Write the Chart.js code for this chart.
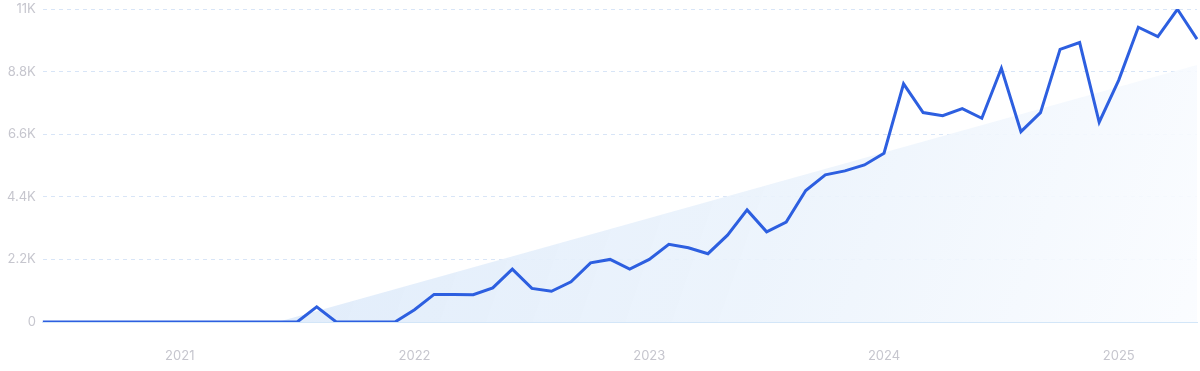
<!DOCTYPE html>
<html>
<head>
<meta charset="utf-8">
<script src="https://cdn.jsdelivr.net/npm/chart.js@4/dist/chart.umd.min.js"></script>
<style>
  html, body { margin: 0; padding: 0; background: #fff; }
  #wrap { position: relative; width: 1200px; height: 371px; }
</style>
</head>
<body>
<div id="wrap"><canvas id="c"></canvas></div>
<script>
// Monthly points, Jun 2020 .. May 2025
const months = [
  "2020-06","2020-07","2020-08","2020-09","2020-10","2020-11","2020-12",
  "2021-01","2021-02","2021-03","2021-04","2021-05","2021-06","2021-07","2021-08","2021-09","2021-10","2021-11","2021-12",
  "2022-01","2022-02","2022-03","2022-04","2022-05","2022-06","2022-07","2022-08","2022-09","2022-10","2022-11","2022-12",
  "2023-01","2023-02","2023-03","2023-04","2023-05","2023-06","2023-07","2023-08","2023-09","2023-10","2023-11","2023-12",
  "2024-01","2024-02","2024-03","2024-04","2024-05","2024-06","2024-07","2024-08","2024-09","2024-10","2024-11","2024-12",
  "2025-01","2025-02","2025-03","2025-04","2025-05"
];

const searches = [
  0, 0, 0, 0, 0, 0, 0,
  0, 0, 0, 0, 0, 0, 0, 530, 0, 0, 0, 0,
  430, 970, 970, 960, 1200, 1860, 1180, 1080, 1410, 2080, 2200, 1860,
  2200, 2730, 2610, 2400, 3050, 3940, 3170, 3510, 4620, 5170, 5310, 5520,
  5930, 8370, 7360, 7250, 7500, 7160, 8920, 6690, 7360, 9580, 9820, 7020,
  8500, 10360, 10030, 10990, 9940
];

// Trend band: starts at zero around Jun/Jul 2021, ends near 9K
const trend = [
  null, null, null, null, null, null, null,
  null, null, null, null, null, 0, null, null, null, null, null, null,
  null, null, null, null, null, null, null, null, null, null, null, null,
  null, null, null, null, null, null, null, null, null, null, null, null,
  null, null, null, null, null, null, null, null, null, null, null, null,
  null, null, null, null, 9030
];

const yTicks = [0, 2200, 4400, 6600, 8800, 11000];
const yTickLabels = ["0", "2.2K", "4.4K", "6.6K", "8.8K", "11K"];

const ctx = document.getElementById("c");

function trendFill(context) {
  const chart = context.chart;
  const area = chart.chartArea;
  if (!area) return "rgba(226,237,251,0.8)";
  const g = chart.ctx.createLinearGradient(area.left + 250, area.top, area.right, area.bottom);
  g.addColorStop(0, "rgba(221,234,250,0.95)");
  g.addColorStop(0.55, "rgba(235,243,252,0.9)");
  g.addColorStop(1, "rgba(250,252,255,0.9)");
  return g;
}

new Chart(ctx, {
  type: "line",
  data: {
    labels: months,
    datasets: [
      {
        data: searches,
        borderColor: "#2d5fe0",
        borderWidth: 3,
        pointRadius: 0,
        tension: 0,
        fill: false,
        order: 0,
      },
      {
        data: trend,
        spanGaps: true,
        borderWidth: 0,
        borderColor: "rgba(0,0,0,0)",
        backgroundColor: trendFill,
        pointRadius: 0,
        fill: "origin",
        order: 1,
      },
    ],
  },
  options: {
    responsive: true,
    maintainAspectRatio: false,
    animation: false,
    layout: { padding: { top: 0, right: 3, left: 0, bottom: 0 } },
    plugins: { legend: { display: false }, tooltip: { enabled: false } },
    scales: {
      x: {
        offset: false,
        grid: { display: false },
        border: { display: true, color: "#d3e6f8", width: 1 },
        afterFit: function (axis) {
          axis.height = 49;
        },
        ticks: {
          autoSkip: false,
          maxRotation: 0,
          color: "#c6c6ce",
          font: { family: "Inter, 'Noto Sans', sans-serif", size: 13 },
          padding: 18,
          callback: function (value, index) {
            const m = months[index];
            return m.endsWith("-01") ? m.slice(0, 4) : null;
          },
        },
      },
      y: {
        min: 0,
        max: 11000,
        afterBuildTicks: function (axis) {
          axis.ticks = yTicks.map((v) => ({ value: v }));
        },
        afterFit: function (axis) {
          // the top label may poke above the plot, like the original
          axis.paddingTop = 9;
        },
        grid: {
          color: function (c) { return c.tick.value === 0 ? "rgba(0,0,0,0)" : "#d8e5f7"; },
          drawTicks: false,
        },
        border: { display: false, dash: [4, 4] },
        ticks: {
          color: "#c6c6ce",
          padding: 7,
          font: { family: "Inter, 'Noto Sans', sans-serif", size: 13 },
          callback: function (value) {
            return yTickLabels[yTicks.indexOf(value)];
          },
        },
      },
    },
  },
});
</script>
</body>
</html>
